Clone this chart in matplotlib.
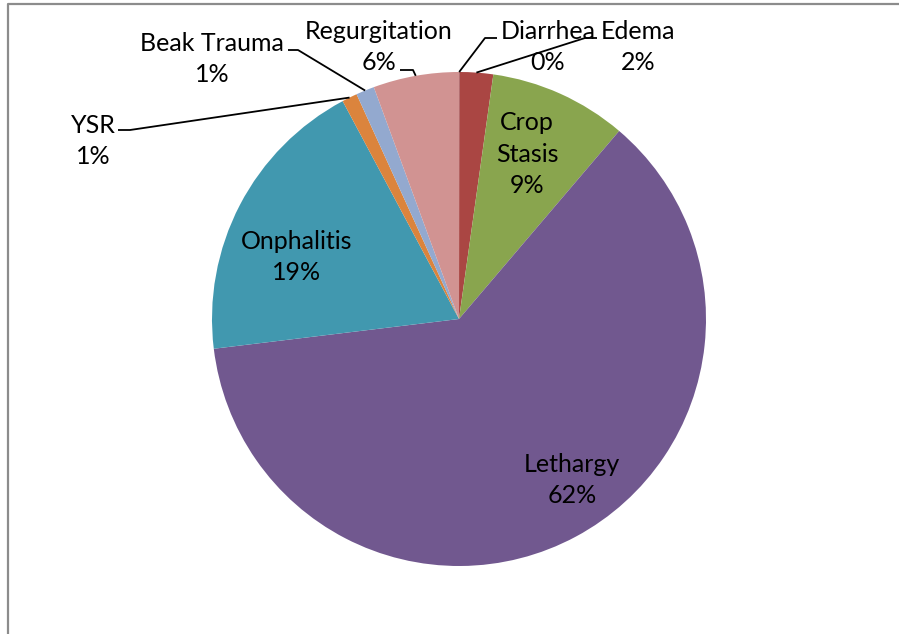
import numpy as np
import matplotlib
matplotlib.use("Agg")
import matplotlib.pyplot as plt

plt.rcParams['font.family'] = ['Lato', 'DejaVu Sans']

# data
categories = ["Diarrhea", "Edema", "Crop\nStasis", "Lethargy", "Onphalitis",
              "YSR", "Beak Trauma", "Regurgitation"]
values = [0.02, 2.2, 9.0, 61.8, 19.1, 1.0, 1.2, 5.6]
colors = ["#4572A7", "#AA4643", "#89A54E", "#71588F", "#4198AF",
          "#DB843D", "#93A9CF", "#D19392"]

# layout in pixels (y measured from top)
W, H = 899, 634
cx, cy, R = 459, 319, 247
# label centre, and elbow points of the leader line (None = inside label)
label_pos = [(548, 47), (638, 47), (527, 154), (572, 480), (297, 257),
             (93, 141), (212, 59), (379, 47)]
leaders = [[(497, 38), (485, 38)], [(597, 38), (585, 38)], None, None, None,
           [(118, 130), (130, 130)], [(288, 50), (298, 50)],
           [(400, 70), (413, 70)]]

fig = plt.figure(figsize=(W / 100, H / 100), dpi=100)
ax = fig.add_axes([0, 0, 1, 1])
wedges, _ = ax.pie(values, colors=colors, startangle=90, counterclock=False,
                   center=(cx, H - cy), radius=R,
                   wedgeprops=dict(linewidth=0))
ax.set_xlim(0, W)
ax.set_ylim(0, H)
ax.set_aspect('auto')
ax.axis('off')

total = sum(values)
for w, name, v, (lx, ly), lead in zip(wedges, categories, values, label_pos, leaders):
    txt = "%s\n%.0f%%" % (name, v / total * 100)
    ax.text(lx, H - ly, txt, ha='center', va='center', multialignment='center',
            fontsize=18, color='black', linespacing=1.45)
    if lead is not None:
        # leader ends on the rim at the middle of the slice
        mid = np.deg2rad((w.theta1 + w.theta2) / 2)
        ax_ = cx + R * np.cos(mid)
        ay_ = (H - cy) + R * np.sin(mid)
        xs = [p[0] for p in lead] + [ax_]
        ys = [H - p[1] for p in lead] + [ay_]
        ax.plot(xs, ys, color='black', lw=1.3, solid_capstyle='butt')

# chart area border
ax.plot([7.5, 7.5, W], [0, H - 3.5, H - 3.5], color='#8c8c8c', lw=1.6)

fig.savefig("out.png", dpi=100)
